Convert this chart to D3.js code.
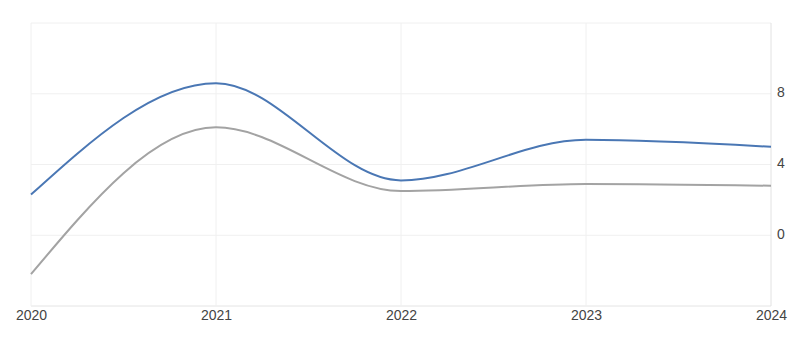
<!DOCTYPE html>
<html>
<head>
<meta charset="utf-8">
<script src="https://cdn.jsdelivr.net/npm/d3@7"></script>
<style>
  body { margin: 0; background: #fff; }
  svg { display: block; font-family: "Liberation Sans", Arial, sans-serif; }
</style>
</head>
<body>
<svg id="chart" width="800" height="346"></svg>
<script>
const years = [2020, 2021, 2022, 2023, 2024];
const blueValues = [2.3, 8.6, 3.1, 5.4, 5.0];
const grayValues = [-2.2, 6.1, 2.5, 2.9, 2.8];
const yTicks = [0, 4, 8];
const yGrid = [-4, 0, 4, 8, 12];

const margin = { top: 23, right: 29, bottom: 40, left: 31 };
const width = 800 - margin.left - margin.right;
const height = 346 - margin.top - margin.bottom;

const svg = d3.select('#chart');
const g = svg.append('g').attr('transform', `translate(${margin.left},${margin.top})`);

const x = d3.scaleLinear().domain([2020, 2024]).range([0, width]);
const y = d3.scaleLinear().domain([-4, 12]).range([height, 0]);

// grid
g.selectAll('.hgrid')
  .data(yGrid)
  .enter().append('line')
  .attr('x1', 0).attr('x2', width)
  .attr('y1', d => y(d)).attr('y2', d => y(d))
  .attr('stroke', d => d === -4 ? '#e4e4e4' : '#f0f0f0')
  .attr('stroke-width', 1);

g.selectAll('.vgrid')
  .data(years)
  .enter().append('line')
  .attr('x1', d => x(d)).attr('x2', d => x(d))
  .attr('y1', 0).attr('y2', height)
  .attr('stroke', d => d === 2024 ? '#e2e2e2' : '#f0f0f0')
  .attr('stroke-width', 1);

// x axis labels
const xAxis = d3.axisBottom(x).tickValues(years).tickFormat(d3.format('d')).tickSize(0).tickPadding(4);
g.append('g')
  .attr('transform', `translate(0,${height})`)
  .call(xAxis)
  .call(s => s.select('.domain').remove())
  .selectAll('text')
  .attr('fill', '#444')
  .style('font-size', '14px');

// y axis labels on the right
const yAxis = d3.axisRight(y).tickValues(yTicks).tickSize(0).tickPadding(6);
g.append('g')
  .attr('transform', `translate(${width},0)`)
  .call(yAxis)
  .call(s => s.select('.domain').remove())
  .selectAll('text')
  .attr('fill', '#444')
  .attr('dy', '0.2em')
  .style('font-size', '14px');

const line = d3.line()
  .x((d, i) => x(years[i]))
  .y(d => y(d))
  .curve(d3.curveMonotoneX);

g.append('path')
  .datum(grayValues)
  .attr('fill', 'none')
  .attr('stroke', '#a3a3a3')
  .attr('stroke-width', 2)
  .attr('d', line);

g.append('path')
  .datum(blueValues)
  .attr('fill', 'none')
  .attr('stroke', '#4a77b4')
  .attr('stroke-width', 2)
  .attr('d', line);
</script>
</body>
</html>
